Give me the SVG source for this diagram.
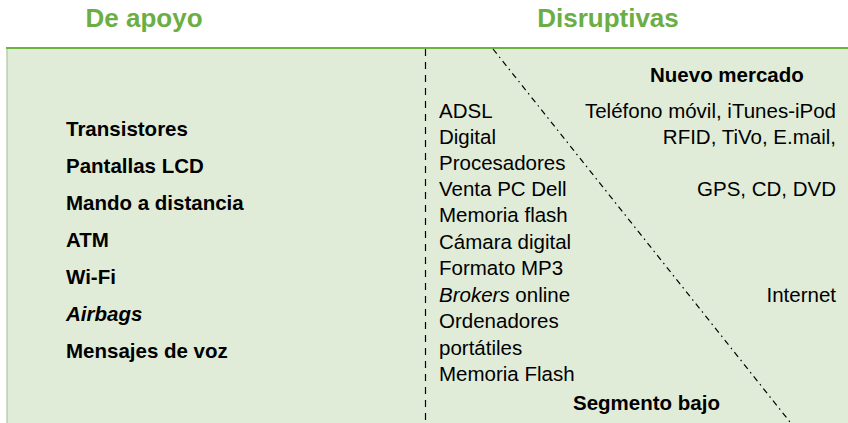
<svg xmlns="http://www.w3.org/2000/svg" width="848" height="423" viewBox="0 0 848 423">
<style>
.hdr{font-family:"Liberation Sans",Arial,sans-serif;font-weight:bold;font-size:26px;fill:#6aae45;text-anchor:middle}
.b{font-family:"Liberation Sans",Arial,sans-serif;font-weight:bold;font-size:20.5px;fill:#000}
.r{font-family:"Liberation Sans",Arial,sans-serif;font-size:20.5px;fill:#000}
.e{text-anchor:end}
</style>
<rect width="848" height="423" fill="#ffffff"/>
<g id="panel">
<rect x="7" y="48" width="841" height="375" fill="#e1ecd8"/>
<line x1="7" y1="48" x2="7" y2="423" stroke="#a9c79c" stroke-width="1.2"/>
<line x1="6" y1="48" x2="848" y2="48" stroke="#6ab43f" stroke-width="2"/>
</g>
<g id="headers">
<text class="hdr" x="144" y="27">De apoyo</text>
<text class="hdr" x="608" y="27">Disruptivas</text>
</g>
<g id="connectors">
<line x1="425.5" y1="49" x2="425.5" y2="423" stroke="#000" stroke-width="1.2" stroke-dasharray="7,6"/>
<line x1="493" y1="49" x2="790" y2="422" stroke="#000" stroke-width="1.2" stroke-dasharray="6,4,1.5,4"/>
</g>
<g id="apoyo">
<text class="b" x="66" y="136">Transistores</text>
<text class="b" x="66" y="173">Pantallas LCD</text>
<text class="b" x="66" y="210">Mando a distancia</text>
<text class="b" x="66" y="247">ATM</text>
<text class="b" x="66" y="284">Wi-Fi</text>
<text class="b" x="66" y="321" font-style="italic">Airbags</text>
<text class="b" x="66" y="358">Mensajes de voz</text>
</g>
<g id="segmento-bajo">
<text class="r" x="439" y="118">ADSL</text>
<text class="r" x="439" y="144">Digital</text>
<text class="r" x="439" y="170">Procesadores</text>
<text class="r" x="439" y="196">Venta PC Dell</text>
<text class="r" x="439" y="222">Memoria flash</text>
<text class="r" x="439" y="249">Cámara digital</text>
<text class="r" x="439" y="275">Formato MP3</text>
<text class="r" x="439" y="302"><tspan font-style="italic">Brokers</tspan> online</text>
<text class="r" x="439" y="328">Ordenadores</text>
<text class="r" x="439" y="355">portátiles</text>
<text class="r" x="439" y="381">Memoria Flash</text>
<text class="b" x="573" y="410">Segmento bajo</text>
</g>
<g id="nuevo-mercado">
<text class="b" x="650" y="82">Nuevo mercado</text>
<text class="r e" x="836" y="118">Teléfono móvil, iTunes-iPod</text>
<text class="r e" x="836" y="144">RFID, TiVo, E.mail,</text>
<text class="r e" x="836" y="196">GPS, CD, DVD</text>
<text class="r e" x="836" y="302">Internet</text>
</g>
</svg>
